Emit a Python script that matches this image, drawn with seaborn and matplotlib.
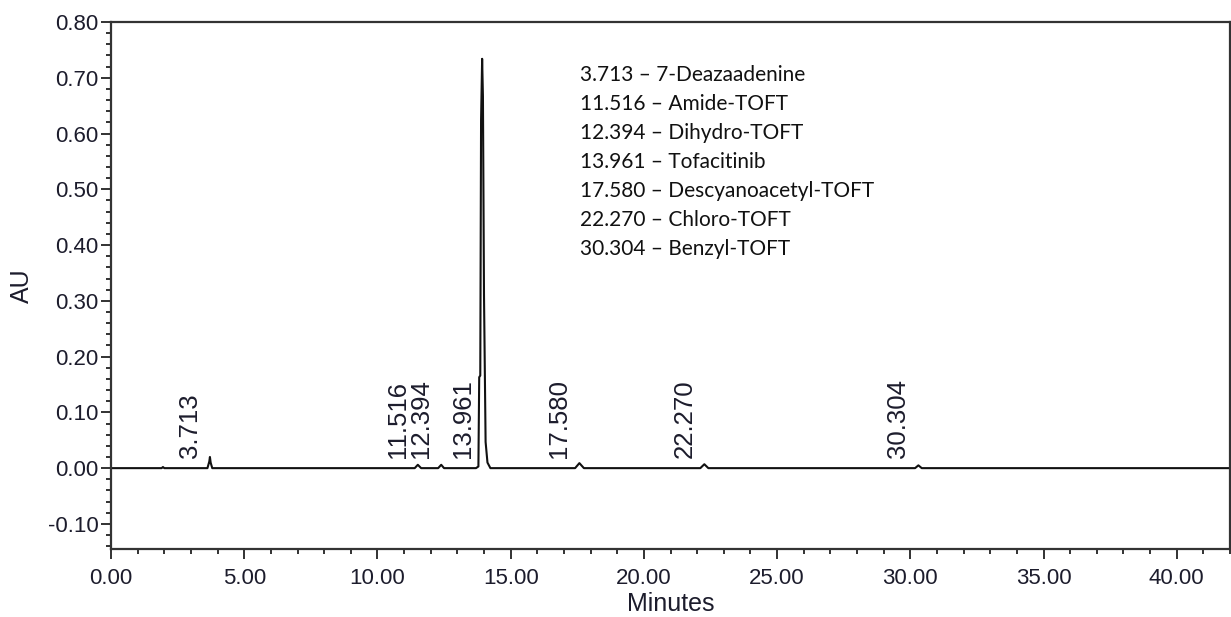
import numpy as np
import pandas as pd
import matplotlib
matplotlib.use("Agg")
import matplotlib.pyplot as plt
from matplotlib.ticker import MultipleLocator, FormatStrFormatter
import seaborn as sns

# ---- data ----
trace_time = [0.00, 1.90, 1.95, 2.00, 3.62, 3.69, 3.713, 3.74, 3.80,
              11.40, 11.516, 11.64, 12.28, 12.394, 12.50,
              13.70, 13.79, 13.82, 13.86, 13.89, 13.93, 13.96, 14.00, 14.06, 14.13, 14.24,
              17.42, 17.58, 17.75, 22.12, 22.27, 22.42, 30.18, 30.304, 30.43, 42.00]
trace_au = [0.000, 0.000, 0.002, 0.000, 0.000, 0.012, 0.020, 0.010, 0.000,
            0.000, 0.006, 0.000, 0.000, 0.006, 0.000,
            0.000, 0.003, 0.163, 0.166, 0.624, 0.734, 0.667, 0.310, 0.047, 0.010, 0.000,
            0.000, 0.009, 0.000, 0.000, 0.007, 0.000, 0.000, 0.005, 0.000, 0.000]

peak_times = [3.713, 11.516, 12.394, 13.961, 17.580, 22.270, 30.304]
peak_labels = ["3.713", "11.516", "12.394", "13.961", "17.580", "22.270", "30.304"]
peak_names = ["7-Deazaadenine", "Amide-TOFT", "Dihydro-TOFT", "Tofacitinib",
              "Descyanoacetyl-TOFT", "Chloro-TOFT", "Benzyl-TOFT"]

x_ticks = [0.00, 5.00, 10.00, 15.00, 20.00, 25.00, 30.00, 35.00, 40.00]
y_ticks = [-0.10, 0.00, 0.10, 0.20, 0.30, 0.40, 0.50, 0.60, 0.70, 0.80]

df = pd.DataFrame({"Minutes": trace_time, "AU": trace_au})

sns.set_theme(style="ticks")
plt.rcParams["font.family"] = ["Liberation Sans", "DejaVu Sans"]
plt.rcParams["axes.unicode_minus"] = False

fig = plt.figure(figsize=(12.31, 6.17), dpi=100)
ax = fig.add_axes([111 / 1231, 1 - 549 / 617, (1230 - 111) / 1231, (549 - 22) / 617])

sns.lineplot(data=df, x="Minutes", y="AU", ax=ax, color="#111111", linewidth=1.5,
             estimator=None, sort=False)

ax.set_xlim(0, 42.0)
ax.set_ylim(-0.145, 0.80)
ax.set_xticks(x_ticks)
ax.set_yticks(y_ticks)
ax.xaxis.set_minor_locator(MultipleLocator(1.0))
ax.yaxis.set_minor_locator(MultipleLocator(0.02))
ax.xaxis.set_major_formatter(FormatStrFormatter("%.2f"))
ax.yaxis.set_major_formatter(FormatStrFormatter("%.2f"))

tick_col = "#1c1c2c"
ax.tick_params(axis="both", which="major", direction="out", length=7.5, width=1.3,
               color="#222222", labelsize=16, labelcolor=tick_col)
ax.tick_params(axis="both", which="minor", direction="out", length=3.8, width=1.3,
               color="#222222")
ax.tick_params(axis="x", which="major", pad=6)
ax.tick_params(axis="y", which="major", pad=1.5)

for s in ax.spines.values():
    s.set_visible(True)
    s.set_color("#333333")
    s.set_linewidth(1.6)

ax.set_xlabel("Minutes", fontsize=18, color=tick_col, labelpad=2)
ax.set_ylabel("AU", fontsize=18, color=tick_col, labelpad=10)
ax.grid(False)

# peak retention-time labels
for t, lab in zip(peak_times, peak_labels):
    ax.annotate(lab, xy=(t, 0), xytext=(-20, 10), textcoords="offset pixels",
                rotation=90, ha="center", va="bottom", fontsize=18.5, color=tick_col)

# compound list
y0 = 0.705
dy = 29 / 557.5
for i, (lab, name) in enumerate(zip(peak_labels, peak_names)):
    ax.text(17.6, y0 - i * dy, f"{lab} \u2013 {name}", ha="left", va="center",
            fontsize=15, color="#111111", family=["Lato", "DejaVu Sans"])

fig.savefig("out.png", dpi=100)
